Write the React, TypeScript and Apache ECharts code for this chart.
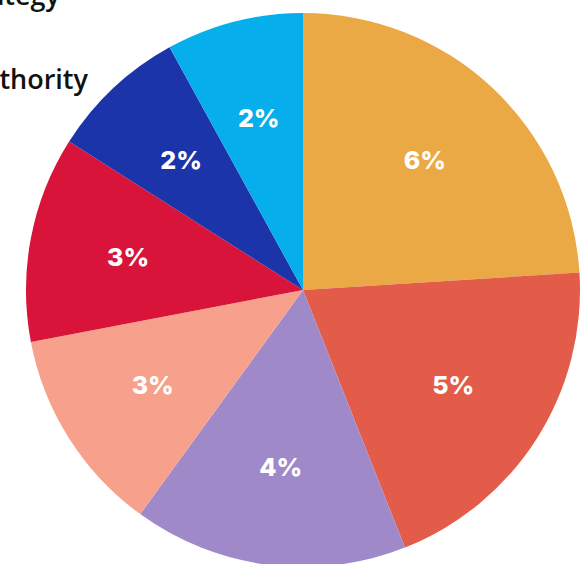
import React, { useEffect, useRef } from "react";
import * as echarts from "echarts";

const categories = ["A", "B", "C", "D", "E", "F", "G"];
const values = [6, 5, 4, 3, 3, 2, 2];
const labels = ["6%", "5%", "4%", "3%", "3%", "2%", "2%"];
const colors = ["#EBA945", "#E35C4A", "#A089C9", "#F7A18C", "#D8143A", "#1C34AA", "#06AEEB"];
const legendTexts = ["Strategy", "Authority"];

export default function App() {
  const ref = useRef<HTMLDivElement>(null);
  useEffect(() => {
    if (!ref.current) return;
    const chart = echarts.init(ref.current, null, { renderer: "svg" });
    const data = categories.map((c, i) => ({ name: c, value: values[i], itemStyle: { color: colors[i] } }));
    const labelData = categories.map((c, i) => ({ name: c, value: values[i], label: { formatter: labels[i] } }));
    const legendStyle = {
      align: "right",
      verticalAlign: "top",
      fontSize: 27,
      fontWeight: 600,
      fontFamily: "Open Sans",
      fill: "#111111",
    };
    chart.setOption({
      animation: false,
      backgroundColor: "#ffffff",
      graphic: [
        { type: "text", x: 60, y: -19, style: { ...legendStyle, text: legendTexts[0] } },
        { type: "text", x: 88, y: 65, style: { ...legendStyle, text: legendTexts[1] } },
      ],
      series: [
        {
          type: "pie",
          center: [303, 290],
          radius: [0, 277],
          startAngle: 90,
          clockwise: true,
          silent: true,
          label: { show: false },
          labelLine: { show: false },
          itemStyle: { borderWidth: 0 },
          data,
        },
        {
          type: "pie",
          center: [303, 290],
          radius: [0, 350],
          startAngle: 90,
          clockwise: true,
          silent: true,
          itemStyle: { color: "rgba(0,0,0,0)", borderWidth: 0 },
          label: {
            show: true,
            position: "inside",
            color: "#ffffff",
            fontSize: 25,
            fontWeight: 800,
            fontFamily: "Inter",
          },
          labelLine: { show: false },
          data: labelData,
        },
      ],
    });
    return () => chart.dispose();
  }, []);
  return <div ref={ref} style={{ position: "fixed", left: 0, top: 0, width: 584, height: 564 }} />;
}
